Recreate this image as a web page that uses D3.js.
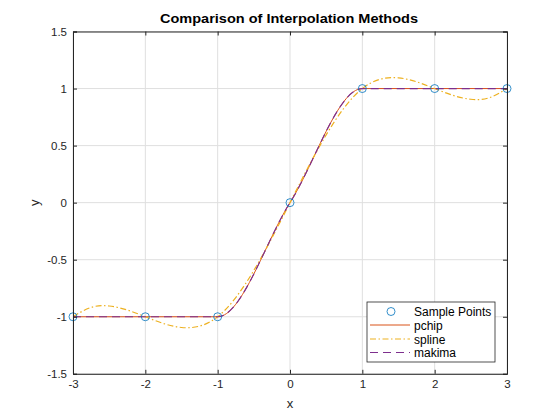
<!DOCTYPE html>
<html>
<head>
<meta charset="utf-8">
<script src="https://cdn.jsdelivr.net/npm/d3@7"></script>
<style>
  body { margin: 0; background: #fff; }
  text { font-family: "Liberation Sans", Arial, sans-serif; }
</style>
</head>
<body>
<svg id="chart" width="560" height="420"></svg>
<script>
// sample points
var sampleX = [-3, -2, -1, 0, 1, 2, 3];
var sampleY = [-1, -1, -1, 0, 1, 1, 1];

// spline curve (step 0.25)
var splineX = [-3, -2.75, -2.5, -2.25, -2, -1.75, -1.5, -1.25, -1, -0.75, -0.5, -0.25, 0,
               0.25, 0.5, 0.75, 1, 1.25, 1.5, 1.75, 2, 2.25, 2.5, 2.75, 3];
var splineY = [-1, -0.918, -0.906, -0.941, -1, -1.059, -1.094, -1.082, -1, -0.832, -0.594, -0.309, 0,
               0.309, 0.594, 0.832, 1, 1.082, 1.094, 1.059, 1, 0.941, 0.906, 0.918, 1];

var xTicks = [-3, -2, -1, 0, 1, 2, 3];
var yTicks = [-1.5, -1, -0.5, 0, 0.5, 1, 1.5];

var seriesNames = ['Sample Points', 'pchip', 'spline', 'makima'];
var seriesColors = ['#0072BD', '#D95319', '#EDB120', '#7E2F8E'];

var svg = d3.select('#chart');
var mLeft = 73, mTop = 31.5, w = 434, h = 342.3;

var x = d3.scaleLinear().domain([-3, 3]).range([mLeft, mLeft + w]);
var y = d3.scaleLinear().domain([-1.5, 1.5]).range([mTop + h, mTop]);

// grid
svg.append('g').selectAll('line').data(xTicks).join('line')
  .attr('x1', d => x(d)).attr('x2', d => x(d))
  .attr('y1', mTop).attr('y2', mTop + h)
  .attr('stroke', '#dfdfdf').attr('stroke-width', 1);
svg.append('g').selectAll('line').data(yTicks).join('line')
  .attr('y1', d => y(d)).attr('y2', d => y(d))
  .attr('x1', mLeft).attr('x2', mLeft + w)
  .attr('stroke', '#dfdfdf').attr('stroke-width', 1);

function pts(xs, ys){ return xs.map((v, i) => [v, ys[i]]); }

svg.append('clipPath').attr('id', 'clip').append('rect')
  .attr('x', mLeft).attr('y', mTop).attr('width', w).attr('height', h);

var plot = svg.append('g').attr('clip-path', 'url(#clip)');

var lineMono = d3.line().x(d => x(d[0])).y(d => y(d[1])).curve(d3.curveMonotoneX);
var lineSpline = d3.line().x(d => x(d[0])).y(d => y(d[1])).curve(d3.curveNatural);

var dash = [null, null, '6,2.5,1.5,2.5', '8,5'];

// pchip
plot.append('path').attr('d', lineMono(pts(sampleX, sampleY)))
  .attr('fill', 'none').attr('stroke', seriesColors[1]).attr('stroke-width', 1);
// spline
plot.append('path').attr('d', lineSpline(pts(splineX, splineY)))
  .attr('fill', 'none').attr('stroke', seriesColors[2]).attr('stroke-width', 1.2)
  .attr('stroke-dasharray', dash[2]);
// makima
plot.append('path').attr('d', lineMono(pts(sampleX, sampleY)))
  .attr('fill', 'none').attr('stroke', seriesColors[3]).attr('stroke-width', 1.2)
  .attr('stroke-dasharray', dash[3]);

// sample points (not clipped)
svg.append('g').selectAll('circle').data(pts(sampleX, sampleY)).join('circle')
  .attr('cx', d => x(d[0])).attr('cy', d => y(d[1])).attr('r', 4)
  .attr('fill', 'none').attr('stroke', seriesColors[0]).attr('stroke-width', 0.8);

// axes
var fmt = d => String(d);
var xAxis = svg.append('g').attr('transform', 'translate(0,' + (mTop + h) + ')')
  .call(d3.axisBottom(x).tickValues(xTicks).tickSize(-4).tickPadding(6).tickFormat(fmt));
var xAxisTop = svg.append('g').attr('transform', 'translate(0,' + mTop + ')')
  .call(d3.axisTop(x).tickValues(xTicks).tickSize(-4).tickFormat(''));
var yAxis = svg.append('g').attr('transform', 'translate(' + mLeft + ',0)')
  .call(d3.axisLeft(y).tickValues(yTicks).tickSize(-4).tickPadding(6).tickFormat(fmt));
var yAxisRight = svg.append('g').attr('transform', 'translate(' + (mLeft + w) + ',0)')
  .call(d3.axisRight(y).tickValues(yTicks).tickSize(-4).tickFormat(''));

[xAxis, xAxisTop, yAxis, yAxisRight].forEach(function(a){
  a.select('.domain').attr('stroke', '#262626');
  a.selectAll('.tick line').attr('stroke', '#262626');
  a.selectAll('.tick text').attr('fill', '#262626').attr('font-size', 11.5)
    .style('font-family', '"Liberation Sans", Arial, sans-serif');
});

// labels
svg.append('text').attr('x', 289).attr('y', 23).attr('text-anchor', 'middle')
  .attr('font-size', 12.5).attr('font-weight', 'bold').attr('fill', '#000')
  .attr('textLength', 258).attr('lengthAdjust', 'spacingAndGlyphs')
  .text('Comparison of Interpolation Methods');
svg.append('text').attr('x', mLeft + w / 2).attr('y', 408).attr('text-anchor', 'middle')
  .attr('font-size', 13).attr('fill', '#262626').text('x');
svg.append('text').attr('transform', 'translate(38.5,' + (mTop + h / 2) + ') rotate(-90)')
  .attr('text-anchor', 'middle').attr('font-size', 13).attr('fill', '#262626').text('y');

// legend
var lg = svg.append('g').attr('transform', 'translate(367,302)');
lg.append('rect').attr('width', 128).attr('height', 60)
  .attr('fill', '#fff').attr('stroke', '#262626').attr('stroke-width', 0.8);
var rowY = [9.5, 23, 37, 50.5];
seriesNames.forEach(function(name, i){
  if (i === 0) {
    lg.append('circle').attr('cx', 24).attr('cy', rowY[i]).attr('r', 4)
      .attr('fill', 'none').attr('stroke', seriesColors[0]).attr('stroke-width', 0.8);
  } else {
    lg.append('line').attr('x1', 3).attr('x2', 43).attr('y1', rowY[i]).attr('y2', rowY[i])
      .attr('stroke', seriesColors[i]).attr('stroke-width', 1)
      .attr('stroke-dasharray', dash[i]);
  }
  lg.append('text').attr('x', 47).attr('y', rowY[i] + 4.5).attr('font-size', 12)
    .attr('fill', '#000').text(name);
});
</script>
</body>
</html>
